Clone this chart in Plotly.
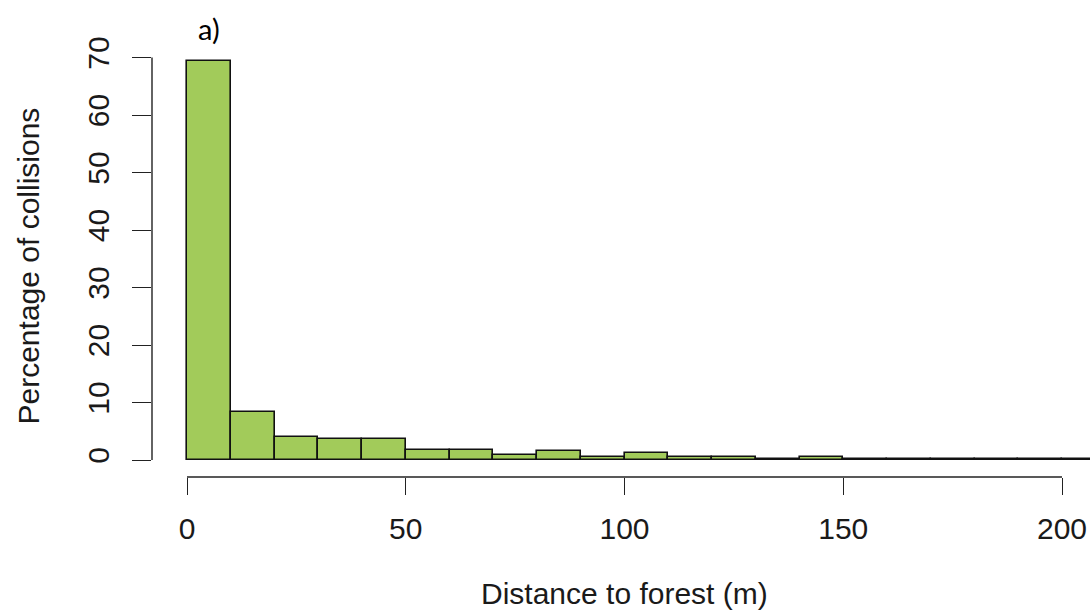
import plotly.graph_objects as go

# Histogram bins (left edges, m) and percentage of collisions per bin
bin_left = [0, 10, 20, 30, 40, 50, 60, 70, 80, 90, 100, 110, 120, 130, 140,
            150, 160, 170, 180, 190, 200]
percent = [69.4, 8.3, 3.95, 3.6, 3.6, 1.74, 1.74, 0.82, 1.51, 0.52, 1.27,
           0.57, 0.57, 0.2, 0.57, 0.15, 0.15, 0.15, 0.15, 0.15, 0.15]
bin_width = 10
x_ticks = [0, 50, 100, 150, 200]
y_ticks = [0, 10, 20, 30, 40, 50, 60, 70]

x_title = "Distance to forest (m)"
y_title = "Percentage of collisions"
panel_label = "a)"

centers = [b + bin_width / 2 for b in bin_left]

fig = go.Figure()
fig.add_trace(go.Bar(
    x=centers, y=percent, width=bin_width,
    marker=dict(color="#A2CB5A", line=dict(color="#111111", width=1.6)),
    hoverinfo="skip",
))

FONT = "Liberation Sans, Arial, sans-serif"
fig.update_layout(
    width=1090, height=611,
    margin=dict(l=152, r=0, t=57, b=134),
    paper_bgcolor="white", plot_bgcolor="white",
    showlegend=False,
    font=dict(family=FONT, size=30, color="#1a1a1a"),
    bargap=0,
)
fig.update_xaxes(
    range=[-8, 206.4], tickvals=x_ticks, ticktext=[str(v) for v in x_ticks],
    ticks="outside", ticklen=17, tickwidth=1.4, tickcolor="#222",
    showline=False, showgrid=False, zeroline=False,
    tickfont=dict(family=FONT, size=30, color="#1a1a1a"),
    ticklabelstandoff=8,
)
fig.update_yaxes(
    range=[-2.957, 70.09], tickvals=y_ticks, ticktext=[str(v) for v in y_ticks],
    ticks="outside", ticklen=19, tickwidth=1.4, tickcolor="#222",
    showline=False, showgrid=False, zeroline=False,
    tickangle=-90,
    tickfont=dict(family=FONT, size=30, color="#1a1a1a"),
    ticklabelstandoff=11,
)
# R-style detached axis lines spanning first to last tick
fig.add_shape(type="line", xref="paper", yref="y", x0=0, x1=0,
              y0=y_ticks[0], y1=y_ticks[-1], line=dict(color="#222", width=1.4))
fig.add_shape(type="line", xref="x", yref="paper", x0=x_ticks[0], x1=x_ticks[-1],
              y0=0, y1=0, line=dict(color="#222", width=1.4))

fig.add_annotation(text=x_title, xref="x", x=100, yref="paper", y=0,
                   yshift=-116, xanchor="center", yanchor="middle",
                   showarrow=False, font=dict(family=FONT, size=30, color="#1a1a1a"))
fig.add_annotation(text=y_title, xref="paper", x=0, xshift=-124, yref="paper",
                   y=(477 - 266.5) / 420, textangle=-90,
                   xanchor="center", yanchor="middle",
                   showarrow=False, font=dict(family=FONT, size=30, color="#1a1a1a"))
fig.add_annotation(text=panel_label, xref="paper", x=0, xshift=57, yref="paper",
                   y=1, yshift=29, xanchor="center", yanchor="middle",
                   showarrow=False, font=dict(family="Lato, Open Sans, sans-serif", size=29, color="black"))

fig.write_html("out.html", config={"displayModeBar": False},
               post_script="document.body.style.margin='0';document.body.style.overflow='hidden';")
